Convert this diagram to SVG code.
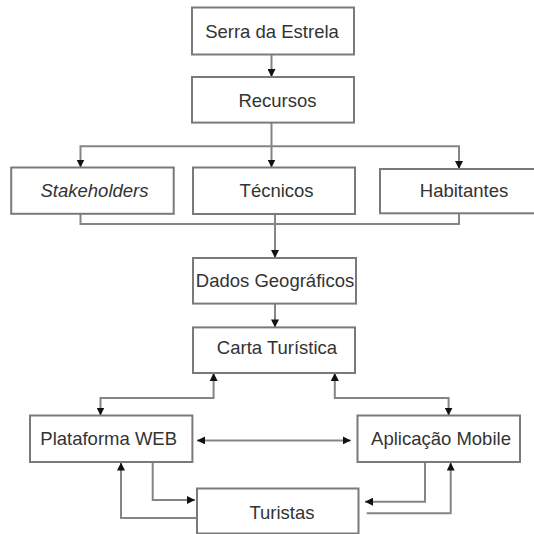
<svg xmlns="http://www.w3.org/2000/svg" width="534" height="534" viewBox="0 0 534 534">
<style>
  .box { fill: #ffffff; stroke: #7a7a7a; stroke-width: 2; }
  .lbl { font-family: "Liberation Sans", Arial, sans-serif; font-size: 18.5px; fill: #333333; text-anchor: middle; }
  .it { font-style: italic; }
  .ln { fill: none; stroke: #858585; stroke-width: 2; }
  .a { marker-end: url(#ah); }
  .ab { marker-start: url(#ah); marker-end: url(#ah); }
</style>
<defs>
  <marker id="ah" viewBox="0 0 10 10" refX="10" refY="5" markerWidth="8" markerHeight="8" markerUnits="userSpaceOnUse" orient="auto-start-reverse">
    <path d="M0,0 L10,5 L0,10 z" fill="#111111"/>
  </marker>
</defs>
<rect width="534" height="534" fill="#ffffff"/>
<g id="connectors">
  <path class="ln a" d="M271.5,54.5 V77"/>
  <path class="ln a" d="M271.5,122.6 V167.5"/>
  <path class="ln a" d="M271.5,146.3 H80.5 V167.5"/>
  <path class="ln a" d="M271.5,146.3 H459 V169"/>
  <path class="ln" d="M80.5,213.8 V224 H459 V213.3"/>
  <path class="ln a" d="M275,214 V258"/>
  <path class="ln a" d="M275,303.6 V327.4"/>
  <path class="ln ab" d="M100.5,415.5 V398 H213.6 V373"/>
  <path class="ln ab" d="M334.8,373 V398 H448.6 V415.5"/>
  <path class="ln ab" d="M197,440.4 H350.8"/>
  <path class="ln a" d="M152.7,462 V500 H195"/>
  <path class="ln a" d="M197,518 H121 V462.5"/>
  <path class="ln a" d="M425,462 V501.7 H365"/>
  <path class="ln a" d="M366.7,513.3 H450.7 V462.5"/>
</g>
<g id="serra">
  <rect class="box" x="192" y="7.5" width="162" height="47"/>
  <text class="lbl" x="272" y="38">Serra da Estrela</text>
</g>
<g id="recursos">
  <rect class="box" x="192" y="77" width="162" height="45.6"/>
  <text class="lbl" x="277.5" y="106.5">Recursos</text>
</g>
<g id="stakeholders">
  <rect class="box" x="11.2" y="167.5" width="162.5" height="46.3"/>
  <text class="lbl it" x="94.5" y="197">Stakeholders</text>
</g>
<g id="tecnicos">
  <rect class="box" x="193" y="167.5" width="162" height="46.5"/>
  <text class="lbl" x="276.6" y="197">Técnicos</text>
</g>
<g id="habitantes">
  <rect class="box" x="380" y="169" width="170" height="44.3"/>
  <text class="lbl" x="464" y="197">Habitantes</text>
</g>
<g id="dados">
  <rect class="box" x="193" y="258" width="163" height="45.6"/>
  <text class="lbl" x="275" y="287">Dados Geográficos</text>
</g>
<g id="carta">
  <rect class="box" x="193" y="327.4" width="162" height="45.6"/>
  <text class="lbl" x="277" y="354">Carta Turística</text>
</g>
<g id="plataforma">
  <rect class="box" x="30" y="415.5" width="162.4" height="46.5"/>
  <text class="lbl" x="108.7" y="445">Plataforma WEB</text>
</g>
<g id="aplicacao">
  <rect class="box" x="357.5" y="415.5" width="162.5" height="46.5"/>
  <text class="lbl" x="441" y="445">Aplicação Mobile</text>
</g>
<g id="turistas">
  <rect class="box" x="197" y="488.5" width="161.5" height="45"/>
  <text class="lbl" x="282" y="519">Turistas</text>
</g>
</svg>
